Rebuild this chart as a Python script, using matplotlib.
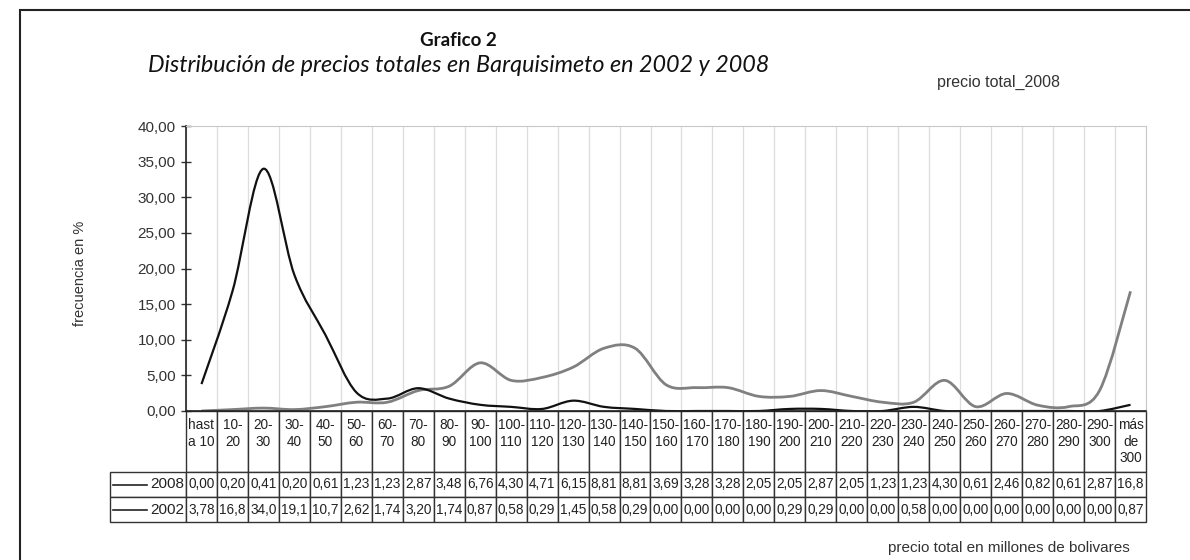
import numpy as np
import matplotlib
matplotlib.use("Agg")
import matplotlib.pyplot as plt
from matplotlib.path import Path
from matplotlib.patches import PathPatch, Rectangle
from matplotlib.ticker import FuncFormatter

plt.rcParams["font.family"] = ["Liberation Sans", "DejaVu Sans"]

# price bins (millones de bolivares)
cats = ["hast\na 10"] + [f"{a}-\n{a + 10}" for a in range(10, 300, 10)] + ["más\nde\n300"]
# frequency in %
v2008 = [0.00, 0.20, 0.41, 0.20, 0.61, 1.23, 1.23, 2.87, 3.48, 6.76, 4.30, 4.71, 6.15, 8.81,
         8.81, 3.69, 3.28, 3.28, 2.05, 2.05, 2.87, 2.05, 1.23, 1.23, 4.30, 0.61, 2.46, 0.82,
         0.61, 2.87, 16.8]
v2002 = [3.78, 16.8, 34.0, 19.1, 10.7, 2.62, 1.74, 3.20, 1.74, 0.87, 0.58, 0.29, 1.45, 0.58,
         0.29, 0.00, 0.00, 0.00, 0.00, 0.29, 0.29, 0.00, 0.00, 0.58, 0.00, 0.00, 0.00, 0.00,
         0.00, 0.00, 0.87]
series = [("2008", v2008, "#808080"), ("2002", v2002, "#111111")]


def smooth_path(y):
    # excel-like smoothed line: cubic bezier through each point
    p = np.column_stack([np.arange(len(y)), y]).astype(float)
    ext = np.vstack([p[0], p, p[-1]])
    verts, codes = [p[0]], [Path.MOVETO]
    for i in range(len(p) - 1):
        c1 = ext[i + 1] + (ext[i + 2] - ext[i]) / 6
        c2 = ext[i + 2] - (ext[i + 3] - ext[i + 1]) / 6
        verts += [c1, c2, p[i + 1]]
        codes += [Path.CURVE4] * 3
    return Path(verts, codes)


def fmt(v):
    return f"{v:.2f}".replace(".", ",")[:4]


fig = plt.figure(figsize=(11.9, 5.6), dpi=100)
W, H = 1190, 560
ax = fig.add_axes([186 / W, 1 - 411 / H, 960 / W, 285 / H])

for name, vals, col in series:
    ax.add_patch(PathPatch(smooth_path(vals), facecolor="none", edgecolor=col,
                           lw=2.0 if name == "2008" else 1.6, joinstyle="round"))

n = len(cats)
ax.set_xlim(-0.5, n - 0.5)
ax.set_ylim(0, 40)
ax.set_yticks(range(0, 41, 5))
ax.yaxis.set_major_formatter(FuncFormatter(lambda v, _: f"{v:.2f}".replace(".", ",")))
ax.set_xticks(np.arange(n + 1) - 0.5)
ax.set_xticklabels([])
ax.tick_params(axis="y", direction="inout", length=7, width=1, labelsize=11, colors="#333333", pad=4)
ax.tick_params(axis="x", length=0)
ax.grid(axis="x", color="#dddddd", lw=0.9)
ax.set_axisbelow(True)
for s in ["top", "right"]:
    ax.spines[s].set_color("#c8c8c8")
for s in ["left", "bottom"]:
    ax.spines[s].set_color("#222222")
    ax.spines[s].set_linewidth(1.2)

# data table under the axis; first column holds the series names
rows = [[name] + [fmt(v) for v in vals] for name, vals, _ in series]
hdr = [""] + [c if c.count("\n") == 2 else c + "\n " for c in cats]
tab = ax.table(cellText=rows, colLabels=hdr, cellLoc="center", colLoc="center",
               bbox=[-76 / 960, -111 / 285, 1036 / 960, 111 / 285])
tab.auto_set_font_size(False)
tab.set_fontsize(9.8)
for (r, c), cell in tab.get_celld().items():
    cell.set_width(76 if c == 0 else 31)
    cell.set_height(61 if r == 0 else 25)
    cell.set_edgecolor("#333333")
    cell.set_linewidth(1.0)
    cell.get_text().set_color("#222222")
    if c == 0:
        if r == 0:
            cell.set_visible(False)
        cell.get_text().set_fontsize(11)
        cell.get_text().set_ha("right")
        cell.PAD = 0.02

# legend keys inside the name cells
for k, (name, vals, col) in enumerate(series):
    yk = -(484.5 + 25 * k - 411) / 285
    ax.plot([-73 / 960, -39 / 960], [yk, yk], color="#222222", lw=1.2,
            transform=ax.transAxes, clip_on=False)

# frame around the figure
fig.add_artist(Rectangle((20 / W, -0.1), 1.2, 1.1 - 10 / H, transform=fig.transFigure,
                         fill=False, edgecolor="#222222", lw=1.5))

fig.text(458 / W, 1 - 40 / H, "Grafico 2", family="Lato", weight="bold", fontsize=13.5,
         ha="center", va="center", color="#111111")
fig.text(148 / W, 1 - 65 / H, "Distribución de precios totales en Barquisimeto en 2002 y 2008",
         family="Lato", style="italic", fontsize=16.8, ha="left", va="center", color="#111111")
fig.text(1060 / W, 1 - 82 / H, "precio total_2008", fontsize=11.5, ha="right", va="center",
         color="#333333")
fig.text(80 / W, 1 - 273 / H, "frecuencia en %", fontsize=10.5, rotation=90, ha="center",
         va="center", color="#333333")
fig.text(1130 / W, 1 - 548 / H, "precio total en millones de bolivares", fontsize=11,
         ha="right", va="center", color="#333333")

fig.savefig("out.png", dpi=100)
